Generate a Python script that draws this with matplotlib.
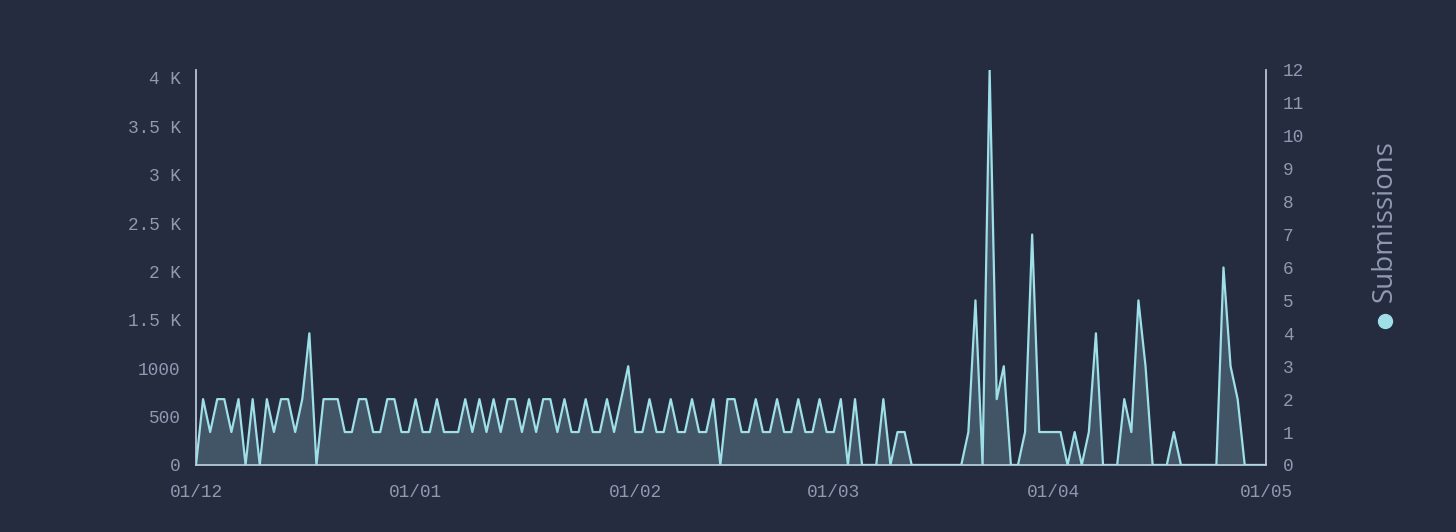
import matplotlib
matplotlib.use("Agg")
import matplotlib.pyplot as plt
import matplotlib.dates as mdates
import pandas as pd
from matplotlib.ticker import FixedLocator, FuncFormatter

# daily submissions, 01/12 -> 01/05
start_date = "2022-12-01"
submissions = [
    0, 2, 1, 2, 2, 1, 2, 0, 2, 0, 2, 1, 2, 2, 1, 2, 4, 0, 2, 2, 2, 1, 1, 2, 2, 1, 1, 2, 2, 1, 1,  # dec
    2, 1, 1, 2, 1, 1, 1, 2, 1, 2, 1, 2, 1, 2, 2, 1, 2, 1, 2, 2, 1, 2, 1, 1, 2, 1, 1, 2, 1, 2, 3,  # jan
    1, 1, 2, 1, 1, 2, 1, 1, 2, 1, 1, 2, 0, 2, 2, 1, 1, 2, 1, 1, 2, 1, 1, 2, 1, 1, 2, 1,  # feb
    1, 2, 0, 2, 0, 0, 0, 2, 0, 1, 1, 0, 0, 0, 0, 0, 0, 0, 0, 1, 5, 0, 12, 2, 3, 0, 0, 1, 7, 1, 1,  # mar
    1, 1, 0, 1, 0, 1, 4, 0, 0, 0, 2, 1, 5, 3, 0, 0, 0, 1, 0, 0, 0, 0, 0, 0, 6, 3, 2, 0, 0, 0,  # apr
    0,  # may
]
dates = pd.date_range(start_date, periods=len(submissions), freq="D")

left_ticks = [0, 500, 1000, 1500, 2000, 2500, 3000, 3500, 4000]
right_ticks = list(range(0, 13))
x_ticks = pd.to_datetime(["2022-12-01", "2023-01-01", "2023-02-01", "2023-03-01", "2023-04-01", "2023-05-01"])

bg = "#262c40"
line_c = "#9fdfe7"
txt_c = "#8f99b2"
spine_c = "#b9c4d8"

fig = plt.figure(figsize=(14.56, 5.32), dpi=100, facecolor=bg)
ax = fig.add_axes([0.1346, 0.126, 0.8695 - 0.1346, 0.7425])
ax.set_facecolor(bg)
ax2 = ax.twinx()

ax2.fill_between(dates, submissions, 0, color=line_c, alpha=0.23, linewidth=0)
ax2.plot(dates, submissions, color=line_c, linewidth=1.6)

ax.set_xlim(dates[0], dates[-1])
ax.set_ylim(0, 4083)
ax2.set_ylim(0, 12)

mono = "Liberation Mono"


def kfmt(v, pos):
    if v >= 1500:
        return f"{v / 1000:g} K"
    return f"{int(v)}"


ax.yaxis.set_major_locator(FixedLocator(left_ticks))
ax.yaxis.set_major_formatter(FuncFormatter(kfmt))
ax2.yaxis.set_major_locator(FixedLocator(right_ticks))
ax.set_xticks(x_ticks)
ax.xaxis.set_major_formatter(mdates.DateFormatter("%d/%m"))

for a in (ax, ax2):
    for s in a.spines.values():
        s.set_visible(False)
    a.tick_params(length=0, colors=txt_c, labelsize=12.8)
    for lab in a.get_xticklabels() + a.get_yticklabels():
        lab.set_fontfamily(mono)

ax.spines["left"].set_visible(True)
ax.spines["left"].set_color(spine_c)
ax.spines["left"].set_linewidth(1.3)
ax2.spines["right"].set_visible(True)
ax2.spines["right"].set_color(spine_c)
ax2.spines["right"].set_linewidth(1.3)
ax.spines["bottom"].set_visible(True)
ax.spines["bottom"].set_color(spine_c)
ax.spines["bottom"].set_linewidth(1.3)

ax.tick_params(axis="y", pad=11)
ax2.tick_params(axis="y", pad=12)
ax.tick_params(axis="x", pad=14)

# rotated legend on the right
fig.text(1385 / 1456, 1 - 221 / 532, "Submissions", rotation=90, color=txt_c,
         fontsize=20, family="Open Sans", ha="center", va="center")
ax2.plot([1385 / 1456], [1 - 321 / 532], "o", color=line_c, markersize=10,
         transform=fig.transFigure, clip_on=False)

fig.savefig("out.png", dpi=100, facecolor=bg)
